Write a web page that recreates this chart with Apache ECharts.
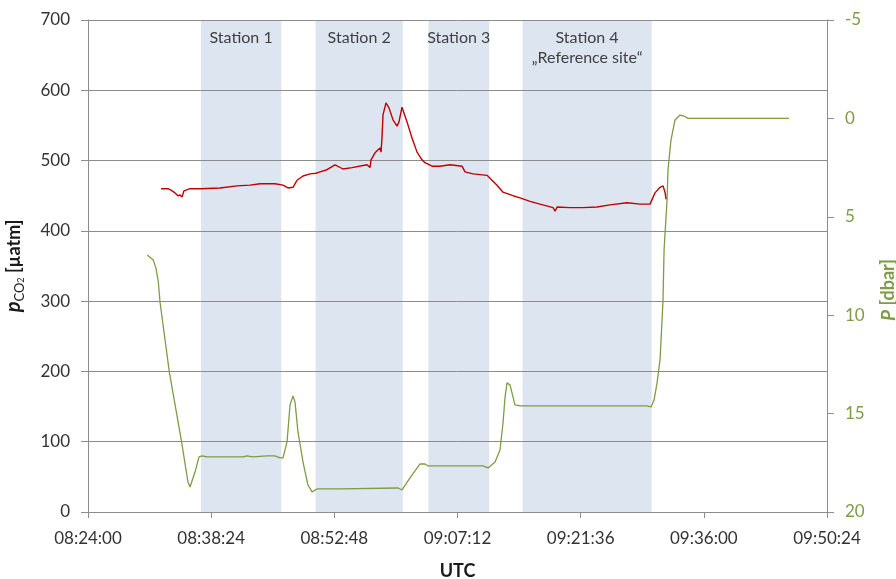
<!DOCTYPE html>
<html>
<head>
<meta charset="utf-8">
<script src="https://cdn.jsdelivr.net/npm/echarts@6/dist/echarts.min.js"></script>
<style>
html,body{margin:0;padding:0;background:#fff;}
#chart{width:896px;height:579px;}
</style>
</head>
<body>
<div id="chart"></div>
<script>
// Time is given in minutes after 08:24:00 UTC
const xTickLabels = ['08:24:00','08:38:24','08:52:48','09:07:12','09:21:36','09:36:00','09:50:24'];
const leftTicks = [0,100,200,300,400,500,600,700];
const rightTicks = [-5,0,5,10,15,20];

const stationNames = ['Station 1','Station 2','Station 3','Station 4\n\u201eReference site\u201c'];
const stationStart = [13.2, 26.6, 39.8, 50.8];
const stationEnd   = [22.6, 36.8, 46.9, 65.9];

// pCO2 [µatm]
const pco2Time = [8.54,9.35,9.70,10.17,10.52,10.76,10.99,11.22,11.93,13.21,15.43,17.42,18.94,20.11,21.86,22.80,23.38,23.97,24.44,25.14,25.96,26.66,27.13,27.94,28.88,29.81,30.87,30.98,32.62,32.97,33.09,33.56,34.14,34.26,34.37,34.49,34.84,35.19,35.66,36.13,36.36,36.71,36.83,37.30,37.88,38.47,39.05,39.40,40.22,41.16,42.33,43.73,44.08,45.01,46.65,47.00,47.82,48.52,49.69,50.51,51.68,52.85,54.37,54.61,54.84,56.36,57.88,59.51,61.03,63.02,64.54,65.71,66.29,66.88,67.23,67.46,67.58];
const pco2Value = [460,460,458,454,450,451,448,457,460,460,461,464,465,467,467,465,461,462,472,478,481,482,484,487,494,488,490,492,494,490,501,511,518,512,532,565,582,575,558,549,555,576,576,555,532,512,501,497,492,492,494,492,484,481,479,475,465,455,450,447,442,438,433,428,434,433,433,434,437,440,438,438,454,462,464,455,445];

// P [dbar]
const presTime = [6.93,7.63,7.95,8.22,8.42,9.51,10.96,11.46,11.69,11.93,12.16,12.51,12.98,13.33,13.91,18.12,18.59,19.29,20.93,21.86,22.45,22.80,23.27,23.62,23.97,24.20,24.55,25.14,25.72,26.19,26.77,29.46,36.25,36.71,37.65,38.82,39.40,39.75,46.18,46.77,47.59,48.17,48.52,48.76,48.99,49.34,49.57,49.92,50.51,65.36,65.83,66.18,66.53,66.88,67.23,67.35,67.70,67.81,68.16,68.63,69.22,69.68,70.15,81.96];
const presValue = [6.94,7.19,7.62,8.30,9.33,12.89,16.48,17.86,18.47,18.73,18.63,17.97,17.20,17.15,17.20,17.20,17.15,17.20,17.15,17.15,17.25,17.25,16.44,14.56,14.10,14.41,15.93,17.46,18.63,18.98,18.83,18.83,18.78,18.88,18.27,17.56,17.56,17.66,17.66,17.76,17.46,16.85,15.48,14.16,13.44,13.54,13.95,14.56,14.61,14.61,14.66,14.31,13.44,12.27,9.23,6.69,4.15,2.62,1.10,0.08,-0.17,-0.12,0.0,0.0];

const GRAY = '#8c8c8c';
const GREEN = '#7d9c45';
const RED = '#c00000';
const FONT = 'Lato, "Noto Sans", sans-serif';

const chart = echarts.init(document.getElementById('chart'));
chart.setOption({
  animation: false,
  backgroundColor: '#fff',
  textStyle: {fontFamily: FONT},
  grid: {left: 88, right: 69, top: 20, bottom: 67, containLabel: false, outerBoundsMode: 'none'},
  xAxis: {
    type: 'value', min: 0, max: 86.4, interval: 14.4,
    name: 'UTC', nameLocation: 'middle', nameGap: 50,
    nameTextStyle: {fontSize: 18, fontWeight: 'bold', color: '#1a1a1a', fontFamily: FONT},
    axisLine: {show: true, lineStyle: {color: GRAY, width: 1}},
    axisTick: {show: true, length: 6, lineStyle: {color: GRAY}},
    splitLine: {show: false},
    axisLabel: {
      fontSize: 17, color: '#333', margin: 18, fontFamily: FONT,
      formatter: function (v) { return xTickLabels[Math.round(v / 14.4)] || ''; }
    }
  },
  yAxis: [{
    type: 'value', min: leftTicks[0], max: leftTicks[leftTicks.length - 1], interval: 100,
    position: 'left',
    name: '{p|p}{s|CO}{ss|2}{t| [\u00b5atm]}', nameLocation: 'middle', nameGap: 62, nameRotate: 90,
    nameTextStyle: {
      color: '#1a1a1a', fontFamily: FONT,
      rich: {
        p: {fontSize: 20, fontWeight: 'bold', fontStyle: 'italic', color: '#1a1a1a', lineHeight: 24, fontFamily: FONT},
        s: {fontSize: 13, color: '#1a1a1a', verticalAlign: 'bottom', lineHeight: 13, fontFamily: FONT},
        ss: {fontSize: 9, color: '#1a1a1a', verticalAlign: 'bottom', lineHeight: 8, fontFamily: FONT},
        t: {fontSize: 18, fontWeight: 'bold', color: '#1a1a1a', lineHeight: 24, fontFamily: FONT}
      }
    },
    axisLine: {show: true, lineStyle: {color: GRAY, width: 1}},
    axisTick: {show: true, length: 7, lineStyle: {color: GRAY}},
    splitLine: {show: true, lineStyle: {color: GRAY, width: 1}},
    axisLabel: {fontSize: 17, color: '#333', margin: 18, fontFamily: FONT}
  }, {
    type: 'value', min: rightTicks[0], max: rightTicks[rightTicks.length - 1], interval: 5,
    inverse: true, position: 'right',
    name: '{p|P}{t| [dbar]}', nameLocation: 'middle', nameGap: 52, nameRotate: 90,
    nameTextStyle: {
      color: GREEN, fontFamily: FONT, padding: [0, 48, 0, 0],
      rich: {
        p: {fontSize: 19, fontWeight: 'bold', fontStyle: 'italic', color: GREEN, fontFamily: FONT},
        t: {fontSize: 18, fontWeight: 'bold', color: GREEN, fontFamily: FONT}
      }
    },
    axisLine: {show: true, lineStyle: {color: GRAY, width: 1}},
    axisTick: {show: true, length: 7, lineStyle: {color: GRAY}},
    splitLine: {show: false},
    axisLabel: {fontSize: 17, color: GREEN, margin: 18, fontFamily: FONT}
  }],
  series: [{
    name: 'bands', type: 'line', yAxisIndex: 0, data: [], silent: true,
    markArea: {
      z: -1, silent: true,
      itemStyle: {color: '#dde5f1'},
      label: {
        show: true, position: 'insideTop', distance: 8,
        fontSize: 16, lineHeight: 20, color: '#404040', fontFamily: FONT
      },
      data: stationNames.map(function (n, i) {
        return [{name: n, xAxis: stationStart[i]}, {xAxis: stationEnd[i]}];
      })
    }
  }, {
    name: 'P', type: 'line', yAxisIndex: 1, showSymbol: false, silent: true,
    lineStyle: {color: GREEN, width: 1.3},
    data: presTime.map(function (t, i) { return [t, presValue[i]]; })
  }, {
    name: 'pCO2', type: 'line', yAxisIndex: 0, showSymbol: false, silent: true,
    lineStyle: {color: RED, width: 1.4},
    data: pco2Time.map(function (t, i) { return [t, pco2Value[i]]; })
  }]
});
</script>
</body>
</html>
